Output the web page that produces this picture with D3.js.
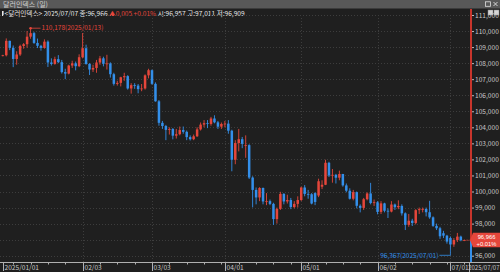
<!DOCTYPE html>
<html>
<head>
<meta charset="utf-8">
<script src="https://cdn.jsdelivr.net/npm/d3@7"></script>
<style>
body { margin: 0; background: #1f1f1f; }
svg { display: block; }
text { font-family: "Noto Sans CJK KR", "Noto Sans", sans-serif; }
</style>
</head>
<body>
<div id="chart"></div>
<script>
var dates = [
    "01/01","01/02","01/03","01/06","01/07","01/08","01/09","01/10","01/13","01/14",
    "01/15","01/16","01/17","01/20","01/21","01/22","01/23","01/24","01/27","01/28",
    "01/29","01/30","01/31","02/03","02/04","02/05","02/06","02/07","02/10","02/11",
    "02/12","02/13","02/14","02/17","02/18","02/19","02/20","02/21","02/24","02/25",
    "02/26","02/27","02/28","03/03","03/04","03/05","03/06","03/07","03/10","03/11",
    "03/12","03/13","03/14","03/17","03/18","03/19","03/20","03/21","03/24","03/25",
    "03/26","03/27","03/28","03/31","04/01","04/02","04/03","04/04","04/07","04/08",
    "04/09","04/10","04/11","04/14","04/15","04/16","04/17","04/18","04/21","04/22",
    "04/23","04/24","04/25","04/28","04/29","04/30","05/01","05/02","05/05","05/06",
    "05/07","05/08","05/09","05/12","05/13","05/14","05/15","05/16","05/19","05/20",
    "05/21","05/22","05/23","05/26","05/27","05/28","05/29","05/30","06/02","06/03",
    "06/04","06/05","06/06","06/09","06/10","06/11","06/12","06/13","06/16","06/17",
    "06/18","06/19","06/20","06/23","06/24","06/25","06/26","06/27","06/30","07/01",
    "07/02","07/03","07/04","07/07"
];
var open = [
    108.48,108.49,109.39,108.95,108.26,108.54,109.07,109.18,109.65,109.87,
    109.26,109.08,108.95,109.34,108.04,107.95,108.25,108.06,107.44,107.35,
    107.85,107.99,107.81,108.37,108.93,107.95,107.60,107.70,108.04,108.30,
    107.96,107.98,107.31,106.71,106.77,107.12,107.19,106.42,106.63,106.60,
    106.38,106.42,107.24,107.56,106.71,105.62,104.28,104.08,103.84,103.90,
    103.48,103.57,103.83,103.72,103.39,103.26,103.44,103.87,104.17,104.26,
    104.21,104.55,104.31,104.04,104.21,104.23,103.79,101.98,103.02,103.26,
    102.85,102.89,100.87,100.10,99.63,100.22,99.38,99.40,99.23,98.28,
    98.92,99.85,99.38,99.47,99.03,99.23,99.47,100.25,99.85,99.83,
    99.90,99.75,100.30,100.42,101.79,101.00,101.04,100.86,101.09,100.38,
    100.05,99.55,99.96,99.11,98.98,99.52,99.88,99.28,99.33,98.73,
    99.26,98.80,98.75,99.19,99.02,99.10,98.64,97.92,98.18,98.04,
    98.84,98.90,98.91,98.71,98.39,97.86,97.71,97.40,97.25,97.10,
    96.70,96.98,97.19,96.957
];
var high = [
    108.52,109.54,109.40,109.10,108.74,109.15,109.25,110.00,110.178,109.95,
    109.53,109.14,109.48,109.42,108.30,108.40,108.50,108.20,107.65,107.90,
    108.15,108.10,108.55,109.88,109.15,108.00,107.90,108.20,108.45,108.40,
    108.52,108.05,107.40,106.90,107.15,107.40,107.25,106.75,106.75,106.70,
    106.70,107.30,107.65,107.60,106.80,105.70,104.40,104.15,104.00,103.95,
    103.90,104.05,104.05,103.80,103.50,103.55,104.00,104.30,104.45,104.45,
    104.65,104.75,104.40,104.30,104.40,104.45,103.85,103.20,103.90,103.40,
    103.50,102.95,100.95,100.25,100.27,100.25,99.90,99.50,99.30,99.00,
    99.98,99.90,99.80,99.60,99.40,99.70,100.30,100.40,100.10,99.90,
    99.95,100.80,100.70,101.98,101.85,101.40,101.10,101.30,101.10,100.50,
    100.20,100.10,100.00,99.20,99.60,99.95,100.54,99.50,99.40,99.40,
    99.30,98.95,99.40,99.25,99.45,99.20,98.70,98.60,98.30,98.90,
    99.00,99.00,99.00,99.42,98.45,98.00,97.80,97.55,97.30,97.20,
    97.10,97.42,97.25,97.011
];
var low = [
    108.42,108.42,108.81,107.75,107.90,108.45,108.90,108.96,109.52,109.20,
    108.94,108.78,108.90,107.76,107.85,107.90,108.00,107.35,107.00,107.30,
    107.70,107.55,107.75,108.30,107.90,107.26,107.45,107.40,107.90,107.80,
    107.60,107.10,106.60,106.60,106.55,106.90,106.35,106.10,106.40,106.12,
    106.25,106.35,107.05,106.65,105.60,104.10,103.90,103.20,103.55,103.25,
    103.30,103.50,103.60,103.20,103.18,103.20,103.40,103.80,104.00,103.95,
    104.10,104.25,103.90,103.90,104.00,103.60,101.26,101.70,102.50,102.70,
    102.10,100.78,99.01,99.20,99.40,99.20,99.15,99.15,97.92,98.00,
    98.85,99.20,99.25,98.90,98.95,99.00,99.40,99.70,99.55,99.20,
    99.15,99.65,100.15,100.40,100.90,100.55,100.50,100.70,100.30,99.95,
    99.50,99.45,98.95,98.70,98.85,99.45,99.20,99.10,98.58,98.60,
    98.70,98.35,98.70,98.85,98.90,98.50,97.60,97.80,97.85,97.95,
    98.60,98.70,98.45,98.30,97.80,97.60,97.05,97.10,96.75,96.367,
    96.55,96.85,96.90,96.909
];
var close = [
    108.49,109.39,108.95,108.26,108.54,109.07,109.18,109.65,109.87,109.26,
    109.08,108.95,109.34,108.04,107.95,108.25,108.06,107.44,107.35,107.85,
    107.99,107.81,108.37,108.93,107.95,107.60,107.70,108.04,108.30,107.96,
    107.98,107.31,106.71,106.77,107.12,107.19,106.42,106.63,106.60,106.38,
    106.42,107.24,107.56,106.71,105.62,104.28,104.08,103.84,103.90,103.48,
    103.57,103.83,103.72,103.39,103.26,103.44,103.87,104.17,104.26,104.21,
    104.55,104.31,104.04,104.21,104.23,103.79,101.98,103.02,103.26,102.97,
    102.89,100.87,100.10,99.63,100.22,99.38,99.40,99.23,98.28,98.92,
    99.85,99.38,99.47,99.03,99.23,99.47,100.25,99.85,99.83,99.25,
    99.35,100.64,100.42,101.79,101.00,101.04,100.86,101.09,100.38,100.05,
    99.55,99.96,99.11,98.98,99.52,99.88,99.28,99.33,98.73,99.26,
    98.80,98.75,99.19,99.02,99.10,98.64,97.92,98.18,98.04,98.84,
    98.90,98.91,98.71,98.39,97.86,97.71,97.21,97.25,96.88,96.70,
    96.98,97.19,96.961,96.966
];
var yTicks = [96, 97, 98, 99, 100, 101, 102, 103, 104, 105, 106, 107, 108, 109, 110, 111];
var monthTicks = ["02/03", "03/03", "04/01", "05/01", "06/02", "07/01"];
var weekTicks = ["01/06","01/13","01/20","01/27","02/10","02/17","02/24","03/10","03/17","03/24",
    "03/31","04/07","04/14","04/21","04/28","05/05","05/12","05/19","05/26","06/09","06/16",
    "06/23","06/30","07/07"];
var hiIdx = 8, loIdx = 129;

var W = 500, H = 272;
var AXIS_X = 471, AXIS_Y = 262;
var RED = "#e5463b", BLUE = "#338fea";
var GRID = "#3d3d3d", LABEL = "#c9c9c9";

function fmtNum(v) {
    // 96.966 -> "96,966"
    return v.toFixed(3).replace(".", ",");
}

var svg = d3.select("#chart").append("svg")
    .attr("width", W)
    .attr("height", H);

svg.append("rect").attr("width", W).attr("height", H).attr("fill", "#1f1f1f");

var x = d3.scalePoint().domain(dates).range([2.8, 464.3]);
var y = d3.scaleLinear().domain([96, 111]).range([255.7, 15]);

var last = dates.length - 1;
var cy = y(close[last]);

/* title bar */
svg.append("rect").attr("x", 0).attr("y", 0).attr("width", W).attr("height", 8.5).attr("fill", "#585858");
svg.append("text").attr("x", 3).attr("y", 6.8).attr("font-size", 7).attr("fill", "#d0d0d0")
    .text("달러인덱스 (일)");
// window icons
svg.append("rect").attr("x", 485.5).attr("y", 1.8).attr("width", 5).attr("height", 4.5)
    .attr("fill", "none").attr("stroke", "#e0e0e0").attr("stroke-width", 0.8);
svg.append("path").attr("d", "M493.5,2 L497.5,6 M497.5,2 L493.5,6")
    .attr("stroke", "#e0e0e0").attr("stroke-width", 0.9);
svg.append("rect").attr("x", 488).attr("y", 10).attr("width", 5).attr("height", 5)
    .attr("fill", "#d6d6d6").attr("stroke", "#888").attr("stroke-width", 0.5);
svg.append("rect").attr("x", 494).attr("y", 10).attr("width", 5).attr("height", 5)
    .attr("fill", "#d6d6d6").attr("stroke", "#888").attr("stroke-width", 0.5);

/* header line */
var chg = close[last] - close[last - 1];
svg.append("rect").attr("x", 2).attr("y", 11).attr("width", 1.6).attr("height", 5).attr("fill", "#e6e6e6");
var hdr = svg.append("text").attr("x", 4.5).attr("y", 16).attr("font-size", 6.6).attr("fill", "#e6e6e6");
hdr.append("tspan").text("<달러인덱스> 2025/07/07 종:" + fmtNum(close[last]) + " ");
hdr.append("tspan").attr("fill", RED).text(" ▲" + fmtNum(chg) + "  +0.01%  ");
hdr.append("tspan").text("시:" + fmtNum(open[last]) + " 고:" + fmtNum(high[last]) + " 저:" + fmtNum(low[last]));

/* grid */
svg.append("g").selectAll("line").data(yTicks).enter().append("line")
    .attr("x1", 0).attr("x2", AXIS_X)
    .attr("y1", function(d) { return Math.round(y(d)) + 0.5; })
    .attr("y2", function(d) { return Math.round(y(d)) + 0.5; })
    .attr("stroke", GRID).attr("stroke-dasharray", "1,2");
svg.append("g").selectAll("line").data(monthTicks).enter().append("line")
    .attr("x1", function(d) { return Math.round(x(d)) + 0.5; })
    .attr("x2", function(d) { return Math.round(x(d)) + 0.5; })
    .attr("y1", 18).attr("y2", AXIS_Y)
    .attr("stroke", GRID).attr("stroke-dasharray", "1,2");

/* candles */
var idx = d3.range(dates.length);
var cw = 2.5;
var candles = svg.append("g").selectAll("g").data(idx).enter().append("g");
function col(i) { return close[i] >= open[i] ? RED : BLUE; }
candles.append("line")
    .attr("x1", function(i) { return x(dates[i]); })
    .attr("x2", function(i) { return x(dates[i]); })
    .attr("y1", function(i) { return y(high[i]); })
    .attr("y2", function(i) { return y(low[i]); })
    .attr("stroke", col).attr("stroke-width", 0.9);
candles.append("rect")
    .attr("x", function(i) { return x(dates[i]) - cw / 2; })
    .attr("width", cw)
    .attr("y", function(i) { return y(Math.max(open[i], close[i])); })
    .attr("height", function(i) { return Math.max(0.8, Math.abs(y(open[i]) - y(close[i]))); })
    .attr("fill", col);

/* high / low marks */
var hx = x(dates[hiIdx]), hy = y(high[hiIdx]);
svg.append("circle").attr("cx", hx).attr("cy", hy).attr("r", 1.3).attr("fill", RED);
svg.append("line").attr("x1", hx).attr("x2", hx + 10).attr("y1", hy).attr("y2", hy)
    .attr("stroke", RED).attr("stroke-width", 0.8);
svg.append("text").attr("x", hx + 11).attr("y", hy + 2.3).attr("font-size", 6.5).attr("fill", RED)
    .text(fmtNum(high[hiIdx]) + "(2025/" + dates[hiIdx] + ")");

var lx = x(dates[loIdx]), ly = y(low[loIdx]);
svg.append("path").attr("d", "M" + lx + "," + ly + " L" + lx + "," + (ly + 5.5) + " L" + (lx - 11) + "," + (ly + 5.5))
    .attr("fill", "none").attr("stroke", BLUE).attr("stroke-width", 0.8);
svg.append("text").attr("x", lx - 12).attr("y", ly + 7.8).attr("font-size", 6.5).attr("fill", BLUE)
    .attr("text-anchor", "end")
    .text(fmtNum(low[loIdx]) + "(2025/" + dates[loIdx] + ")");

/* current price line */
svg.append("line").attr("x1", x(dates[last]) + 2).attr("x2", AXIS_X).attr("y1", cy).attr("y2", cy)
    .attr("stroke", RED).attr("stroke-width", 0.7).attr("stroke-dasharray", "2,1");

/* right axis */
svg.append("line").attr("x1", AXIS_X).attr("x2", AXIS_X).attr("y1", 9).attr("y2", cy)
    .attr("stroke", "#c8352c").attr("stroke-width", 2);
svg.append("line").attr("x1", AXIS_X).attr("x2", AXIS_X).attr("y1", cy).attr("y2", AXIS_Y)
    .attr("stroke", BLUE).attr("stroke-width", 2);
var ya = svg.append("g").attr("transform", "translate(" + (AXIS_X + 1) + ",0)")
    .call(d3.axisRight(y).tickValues(yTicks).tickSize(2).tickPadding(1)
        .tickFormat(function(d) { return d + ",000"; }));
ya.select(".domain").remove();
ya.selectAll("line").attr("stroke", "#bbb");
ya.selectAll("text").attr("fill", LABEL).attr("font-size", 6.6).attr("dy", "0.34em")
    .style("font-family", "'Noto Sans CJK KR', sans-serif");
// the price box sits over the label next to the current price
ya.selectAll(".tick").filter(function(d) { return Math.abs(y(d) - cy) < 8; })
    .select("text").remove();

/* price box */
svg.append("path")
    .attr("d", "M470," + cy + " L473," + (cy - 7.5) + " L500," + (cy - 7.5) + " L500," + (cy + 7) + " L473," + (cy + 7) + " Z")
    .attr("fill", RED);
var boxText = svg.append("text").attr("font-size", 5.8).attr("fill", "#fff")
    .attr("text-anchor", "middle").style("font-family", "'Liberation Sans', sans-serif");
boxText.append("tspan").attr("x", 486.5).attr("y", cy - 1.3).text(fmtNum(close[last]));
boxText.append("tspan").attr("x", 486.5).attr("y", cy + 5.7).text("+0.01%");

/* bottom axis */
svg.append("line").attr("x1", 0).attr("x2", W).attr("y1", AXIS_Y + 0.5).attr("y2", AXIS_Y + 0.5)
    .attr("stroke", "#b0b0b0");
svg.append("g").selectAll("line").data(weekTicks).enter().append("line")
    .attr("x1", function(d) { return Math.round(x(d)) + 0.5; })
    .attr("x2", function(d) { return Math.round(x(d)) + 0.5; })
    .attr("y1", AXIS_Y).attr("y2", AXIS_Y + 2.5)
    .attr("stroke", "#b0b0b0");
var xl = [{ d: "01/01", t: "2025/01/01" }].concat(monthTicks.map(function(m) { return { d: m, t: m }; }));
var xlab = svg.append("g").selectAll("g").data(xl).enter().append("g")
    .attr("transform", function(o) { return "translate(" + (Math.round(x(o.d)) + 0.5) + "," + AXIS_Y + ")"; });
xlab.append("line").attr("y1", 0).attr("y2", 9).attr("stroke", "#b0b0b0");
xlab.append("text").attr("x", 1).attr("y", 8.3).attr("font-size", 6.6).attr("fill", LABEL)
    .text(function(o) { return o.t; });
svg.append("line").attr("x1", 469.5).attr("x2", 469.5).attr("y1", AXIS_Y).attr("y2", H).attr("stroke", "#b0b0b0");
svg.append("text").attr("x", 499.5).attr("y", AXIS_Y + 8.3).attr("font-size", 6).attr("fill", LABEL)
    .attr("text-anchor", "end")
    .text("2025/07/07");
</script>
</body>
</html>
